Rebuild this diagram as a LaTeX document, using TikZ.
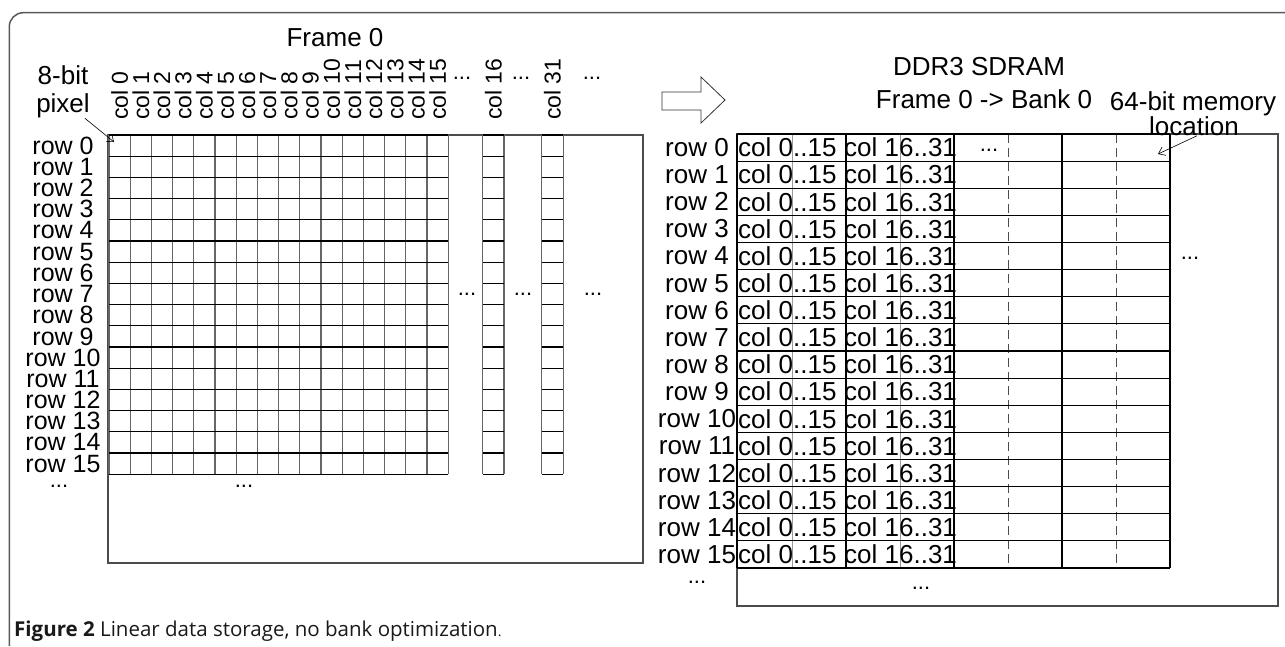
\documentclass[tikz,border=0pt]{standalone}
\usepackage{fontspec}
\setmainfont{Liberation Sans}
\newfontfamily\capfont{Open Sans}
\usetikzlibrary{arrows.meta}
\begin{document}
\begin{tikzpicture}[x=1pt,y=-1pt,
  txt/.style={inner sep=0pt, font=\fontsize{26}{28}\selectfont},
  rowl/.style={inner sep=0pt, font=\fontsize{25}{26}\selectfont},
  colh/.style={inner sep=0pt, font=\fontsize{23}{24}\selectfont, rotate=90, anchor=west},
  cell/.style={inner sep=0pt, font=\fontsize{26}{28}\selectfont, anchor=west},
  dots/.style={inner sep=0pt, font=\fontsize{22}{24}\selectfont},
  gridv/.style={draw=black!60, line width=1.2pt},
  gridh/.style={draw=black, line width=1.2pt},
  thinbox/.style={draw=black!70, line width=1.1pt},
  midline/.style={draw=black!40, line width=0.8pt},
  dashline/.style={draw=black!70, line width=1pt, dash pattern=on 9pt off 5pt},
  ptr/.style={draw=black, line width=0.6pt, -{Straight Barb[length=6pt,width=9pt]}},
  blockarrow/.style={draw=black!80, line width=0.8pt},
  framebox/.style={draw=black!65, line width=1.5pt, rounded corners=14pt},
]
\useasboundingbox (0,0) rectangle (1285,646);

% outer frame
\draw[framebox] (9.3,646) -- (9.3,12.7) -- (1285,12.7);

% ---------------- left: frame 0 ----------------
\draw[thinbox] (108,135) rectangle (643,563);
\foreach \i in {0,...,16} \draw[gridv] ({109+21.2*\i},135) -- ({109+21.2*\i},474);
\foreach \j in {0,...,16} \draw[gridh] (109,{135+21.2*\j}) -- (448.2,{135+21.2*\j});
% col 16 strip
\draw[gridv] (482.7,135) -- (482.7,474);
\draw[gridv] (504,135) -- (504,474);
\foreach \j in {0,...,16} \draw[gridh] (482.7,{135+21.2*\j}) -- (504,{135+21.2*\j});
% col 31 strip
\draw[gridv] (541.7,135) -- (541.7,474);
\draw[gridv] (563.3,135) -- (563.3,474);
\foreach \j in {0,...,16} \draw[gridh] (541.7,{135+21.2*\j}) -- (563.3,{135+21.2*\j});

\foreach \i in {0,...,15} \node[colh] (ch\i) at ({109+21.2*(\i+0.5)},120) {col \i};
\node[colh] (ch16) at (493.3,120) {col 16};
\node[colh] (ch31) at (552.5,120) {col 31};
\node[dots] (td1) at (462,78) {...};
\node[dots] (td2) at (521,78) {...};
\node[dots] (td3) at (592,78) {...};

\foreach \i in {0,...,15} \node[rowl] (lr\i) at (63,{135+21.2*(\i+0.5)}) {row \i};
\node[dots] (ld1) at (59,486) {...};
\node[dots] (ld2) at (244,486) {...};
\node[dots] (ld3) at (467,294) {...};
\node[dots] (ld4) at (523,294) {...};
\node[dots] (ld5) at (593,294) {...};

\node[txt] (frame) at (335,38) {Frame 0};
\node[txt] (bit8) at (63,75) {8-bit};
\node[txt] (pixel) at (63,106) {pixel};
\coordinate (c0) at (114,142);
\draw[ptr] ([xshift=-5pt]pixel.south east) -- (c0);

% block arrow
\draw[blockarrow] (662,92) -- (701,92) -- (701,77) -- (725,100) -- (701,123) -- (701,110) -- (662,110) -- cycle;

% ---------------- right: DDR3 ----------------
\draw[thinbox] (737,134) rectangle (1278,606);
\draw[midline] (792,134) -- (792,568);
\draw[midline] (900,134) -- (900,568);
\draw[dashline] (1008,134) -- (1008,568);
\draw[dashline] (1116,134) -- (1116,568);
\foreach \j in {0,...,16} \draw[gridh] (737,{134+27.125*\j}) -- (1170,{134+27.125*\j});
\foreach \x in {737,846,954,1062,1170} \draw[gridh] (\x,134) -- (\x,568);

\foreach \i in {0,...,15} {
  \node[txt] (rr\i) at (697,{134+27.125*(\i+0.5)}) {row \i};
  \node[cell] (ca\i) at (738,{134+27.125*(\i+0.5)}) {col 0..15};
  \node[cell] (cb\i) at (844,{134+27.125*(\i+0.5)}) {col 16..31};
}
\node[dots] (rd1) at (989,150) {...};
\node[dots] (rd2) at (1190,258) {...};
\node[dots] (rd3) at (697,582) {...};
\node[dots] (rd4) at (921,588) {...};

\node[txt] (ddr) at (979,67) {DDR3 SDRAM};
\node[txt] (bank) at (984,99) {Frame 0 -> Bank 0};
\node[txt] (mem) at (1193,104) {64-bit memory};
\node[txt] (loc) at (1194,126) {location};
\coordinate (c1) at (1158,154);
\draw[ptr] ([xshift=3pt]loc.south) -- (c1);

% caption
\node[anchor=base west, inner sep=0pt, text=black!90,
      font=\capfont\fontsize{20.5}{24}\selectfont] (cap) at (14,636)
  {\textbf{Figure 2} Linear data storage, no bank optimization{\fontsize{14}{14}\selectfont.}};
\end{tikzpicture}
\end{document}
